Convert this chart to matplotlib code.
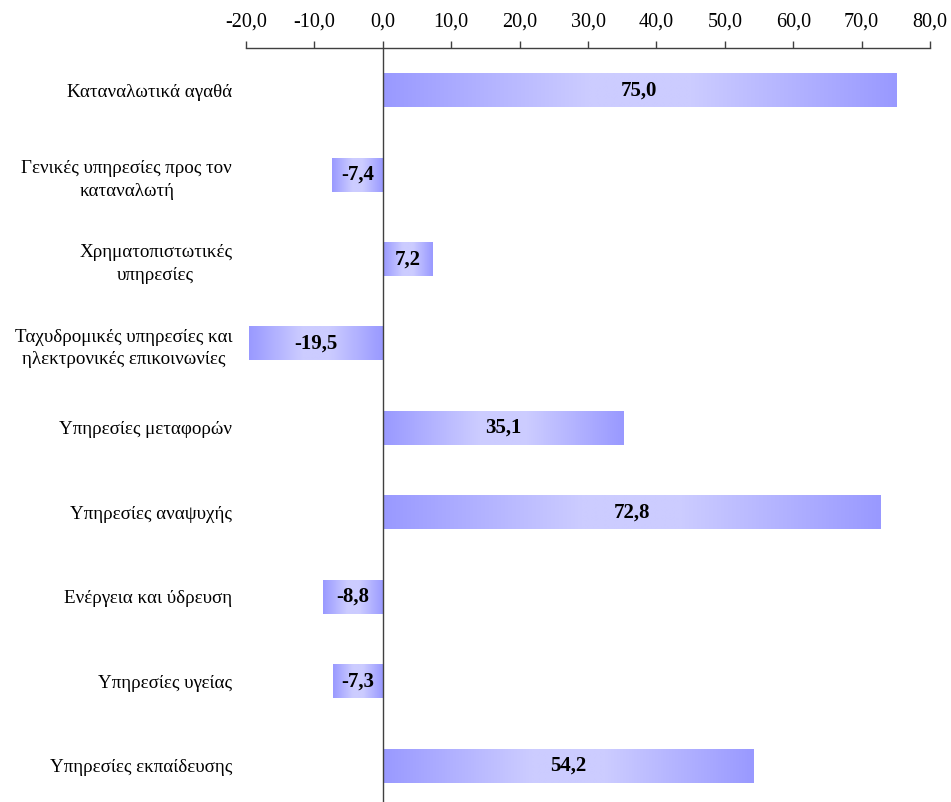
import matplotlib.pyplot as plt
import numpy as np
from matplotlib.colors import LinearSegmentedColormap

plt.rcParams['font.family'] = ['Liberation Serif', 'DejaVu Serif']

# Categories (top to bottom) and their values
categories = [
    'Καταναλωτικά αγαθά',
    'Γενικές υπηρεσίες προς τον\nκαταναλωτή',
    'Χρηματοπιστωτικές\nυπηρεσίες',
    'Ταχυδρομικές υπηρεσίες και\nηλεκτρονικές επικοινωνίες',
    'Υπηρεσίες μεταφορών',
    'Υπηρεσίες αναψυχής',
    'Ενέργεια και ύδρευση',
    'Υπηρεσίες υγείας',
    'Υπηρεσίες εκπαίδευσης',
]
values = [75.0, -7.4, 7.2, -19.5, 35.1, 72.8, -8.8, -7.3, 54.2]
xticks = [-20, -10, 0, 10, 20, 30, 40, 50, 60, 70, 80]

fmt = lambda v: f'{v:.1f}'.replace('.', ',')

fig = plt.figure(figsize=(9.51, 8.02), dpi=100)
ax = fig.add_axes([0.2587, 0.0, 0.978 - 0.2587, 0.9401])

# horizontal gradient: darker edges, light centre
cmap = LinearSegmentedColormap.from_list(
    'grad', [(0, '#9999FF'), (0.4, '#CCCCFF'), (0.6, '#CCCCFF'), (1, '#9999FF')])
grad = np.linspace(0, 1, 256).reshape(1, -1)

y = np.arange(len(categories))
bh = 0.4
bars = ax.barh(y, values, height=bh, color='none', edgecolor='none')
for bar, v in zip(bars, values):
    x0, w = bar.get_x(), bar.get_width()
    yb, h = bar.get_y(), bar.get_height()
    left, right = min(x0, x0 + w), max(x0, x0 + w)
    ax.imshow(grad, cmap=cmap, aspect='auto', extent=[left, right, yb + h, yb],
              interpolation='bilinear', zorder=2)
    ax.text((left + right) / 2, yb + h / 2, fmt(v), ha='center', va='center',
            fontsize=15, fontweight='bold', zorder=4)

ax.axvline(0, color='#404040', lw=1.0, zorder=3)

ax.set_xlim(-20, 80)
ax.set_ylim(8.43, -0.5)
ax.set_yticks(y)
ax.set_yticklabels(categories, fontsize=13.7, multialignment='center',
                   linespacing=1.45)
ax.tick_params(axis='y', length=0, pad=10)

ax.xaxis.tick_top()
ax.set_xticks(xticks)
ax.set_xticklabels([fmt(t) for t in xticks], fontsize=14.5)
ax.tick_params(axis='x', direction='out', length=5, width=1, color='#404040', pad=7)

for s in ['left', 'right', 'bottom']:
    ax.spines[s].set_visible(False)
ax.spines['top'].set_color('#404040')
ax.spines['top'].set_linewidth(1.0)

fig.savefig('out.png', dpi=100)
